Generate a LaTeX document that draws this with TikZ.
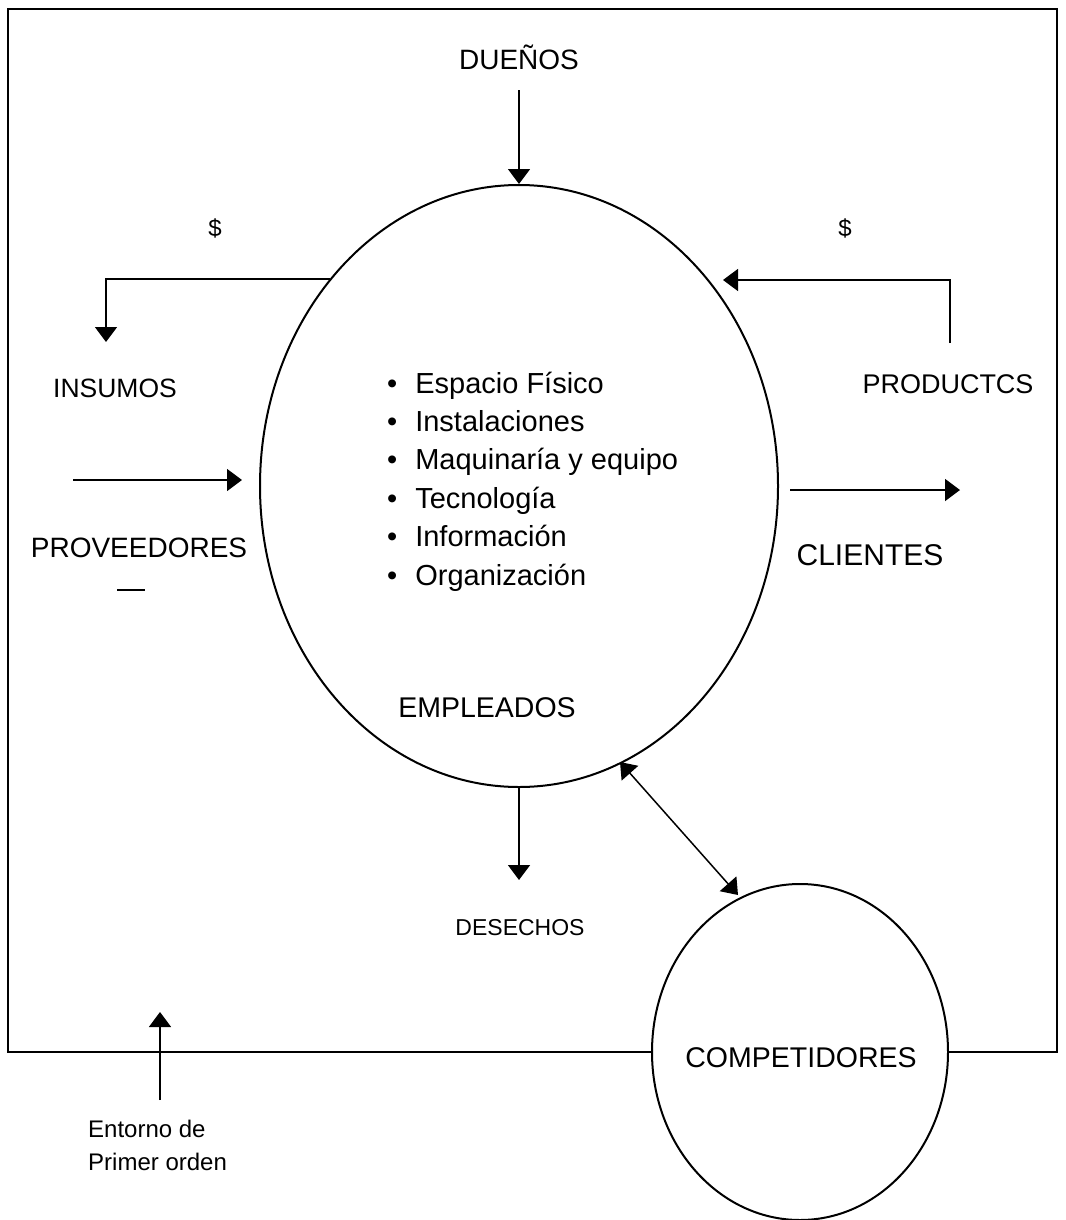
\documentclass[tikz,border=0pt]{standalone}
\usepackage{fontspec}
\setmainfont{Liberation Sans}
\usetikzlibrary{arrows.meta,shapes.geometric}
\begin{document}
\begin{tikzpicture}[x=1pt,y=-1pt,
  frame/.style={line width=2pt},
  arr/.style={line width=1.5pt,-{Triangle[length=15pt,width=22pt]}},
  darr/.style={line width=1.5pt,{Triangle[length=15pt,width=22pt]}-{Triangle[length=15pt,width=22pt]}},
  lbl/.style={inner sep=0pt,anchor=base,font=\fontsize{#1}{#1}\selectfont},
  note/.style={inner sep=0pt,anchor=base west,font=\fontsize{24}{24}\selectfont},
  item/.style={inner sep=0pt,anchor=base west,font=\fontsize{29}{29}\selectfont},
  blob/.style={draw,line width=2pt,ellipse,inner sep=0pt}
]
\useasboundingbox (0,0) rectangle (1065,1220);

% the two bodies
\node[blob,minimum width=518pt,minimum height=602pt] (org) at (519,486) {};
\node[blob,minimum width=296pt,minimum height=336pt] (comp) at (800,1052) {};

% outer frame (environment), broken by the competitors circle
\coordinate (fBL) at (8,1052);
\coordinate (fTL) at (8,9);
\coordinate (fTR) at (1057,9);
\coordinate (fBR) at (1057,1052);
\draw[frame] (comp.west) -- (fBL) -- (fTL) -- (fTR) -- (fBR) -- (comp.east);

% labels
\node[lbl=28] (duenos) at (519,70) {DUEÑOS};
\node[lbl=24] (dolL) at (215,236) {\$};
\node[lbl=24] (dolR) at (845,236) {\$};
\node[lbl=26.5] (insumos) at (115,397) {INSUMOS};
\node[lbl=28] (prov) at (139,557) {PROVEEDORES};
\node[lbl=27] (prod) at (948,393) {PRODUCTCS};
\node[lbl=30] (clientes) at (870,565) {CLIENTES};
\node[lbl=28.5] (empl) at (487,717) {EMPLEADOS};
\node[lbl=23] (desechos) at (520,935) {DESECHOS};
\node[lbl=28.5] (compl) at (801,1067) {COMPETIDORES};
\node[note] (ent1) at (88,1137) {Entorno de};
\node[note] (ent2) at (88,1170) {Primer orden};

% resources inside the organisation
\foreach \t [count=\i] in {Espacio Físico,Instalaciones,Maquinaría y equipo,Tecnología,Información,Organización}
  \node[item] (item\i) at (387,{393+38.4*(\i-1)}) {\textbullet\hspace{0.62em}\t};

% flows
\draw[arr,shorten <=20pt] (duenos.south) -- (org.north);

\coordinate (payOut) at (330,279);
\coordinate (insTip) at (106,342);
\draw[arr] (payOut) -| (insTip);

\coordinate (prodFoot) at (950,343);
\coordinate (payIn) at (723,280);
\draw[arr] (prodFoot) |- (payIn);

\coordinate (provTail) at (73,480);
\coordinate (provTip) at (242,480);
\draw[arr] (provTail) -- (provTip);

\coordinate (cliTail) at (790,490);
\coordinate (cliTip) at (960,490);
\draw[arr] (cliTail) -- (cliTip);

\coordinate (wasteTip) at (519,880);
\draw[arr] (org.south) -- (wasteTip);

\coordinate (orgRim) at (620,762);
\coordinate (compRim) at (738,895);
\draw[darr] (orgRim) -- (compRim);

\coordinate (entTail) at (160,1100);
\coordinate (entTip) at (160,1012);
\draw[arr] (entTail) -- (entTip);

% short mark under PROVEEDORES
\coordinate (markA) at (117,590);
\coordinate (markB) at (145,590);
\draw[line width=2.5pt] (markA) -- (markB);
\end{tikzpicture}
\end{document}
